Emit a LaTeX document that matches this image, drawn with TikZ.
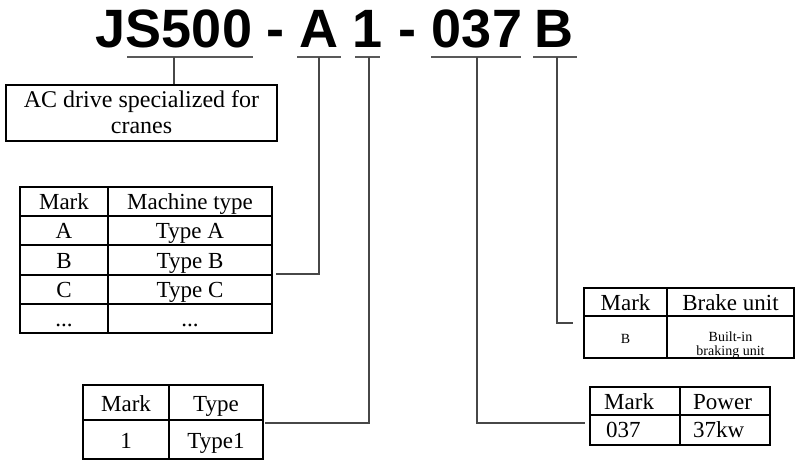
\documentclass[tikz,border=0pt]{standalone}
\usepackage{fontspec}
\setmainfont{Liberation Serif}
\newfontfamily\titlefont{Liberation Sans}
\begin{document}
\begin{tikzpicture}[x=1pt,y=-1pt,
  conn/.style={draw=black!72, line width=1.3pt},
  uline/.style={draw=black!65, line width=1.8pt},
  frame/.style={draw=black, line width=2pt, inner sep=0pt},
  grid/.style={draw=black, line width=1.8pt},
  ttl/.style={font=\titlefont\bfseries\fontsize{54}{54}\selectfont, anchor=base, inner sep=0pt},
  cell/.style={font=\fontsize{23}{23}\selectfont, anchor=base, inner sep=0pt},
  cellw/.style={font=\fontsize{23}{23}\selectfont, anchor=base west, inner sep=0pt},
  small/.style={font=\fontsize{14}{14}\selectfont, anchor=base, inner sep=0pt},
  boxtext/.style={font=\fontsize{24}{24}\selectfont, anchor=base, inner sep=0pt}]

\useasboundingbox (0,0) rectangle (798,461);

% title
\node[ttl] (tJS) at (174,47) {JS500};
\node[ttl] (d1) at (275.5,47) {-};
\node[ttl] (tA) at (319,47) {A};
\node[ttl] (t1) at (367.5,47) {1};
\node[ttl] (d2) at (407.5,47) {-};
\node[ttl] (t037) at (477,47) {037};
\node[ttl] (tB) at (554,47) {B};

% underlines
\draw[uline] (127,57) -- (253,57);
\draw[uline] (297,57) -- (341,57);
\draw[uline] (355,57) -- (380,57);
\draw[uline] (431,57) -- (521,57);
\draw[uline] (533,57) -- (577,57);
\coordinate (uJS) at (174,57);
\coordinate (uA) at (319,57);
\coordinate (u1) at (369,57);
\coordinate (u037) at (477,57);
\coordinate (uB) at (557,57);

% AC box
\node[frame, minimum width=271pt, minimum height=56pt] (acbox) at (141.5,113) {};
\node[boxtext] (ac1) at (141.5,107) {AC drive specialized for};
\node[boxtext] (ac2) at (141.5,133) {cranes};
\draw[conn] (uJS) -- (acbox.north -| uJS);

% machine type table
\node[frame, minimum width=252pt, minimum height=146pt] (tm) at (146,260) {};
\draw[grid] (108,187) -- (108,333);
\foreach \yy in {216,245,275,304} \draw[grid] (20,\yy) -- (272,\yy);
\node[cell] (m1) at (64,209.5) {Mark};
\node[cell] (m2) at (190,209.5) {Machine type};
\node[cell] (ma) at (64,238.5) {A};
\node[cell] (mta) at (190,238.5) {Type A};
\node[cell] (mb) at (64,268) {B};
\node[cell] (mtb) at (190,268) {Type B};
\node[cell] (mc) at (64,297.5) {C};
\node[cell] (mtc) at (190,297.5) {Type C};
\node[cell] (md) at (64,326.5) {...};
\node[cell] (mtd) at (190,326.5) {...};
\coordinate (eA) at (276,274);
\draw[conn] (uA) |- (eA);

% type table
\node[frame, minimum width=180pt, minimum height=74pt] (tt) at (173,422) {};
\draw[grid] (169,385) -- (169,459);
\draw[grid] (83,420) -- (263,420);
\node[cell] (k1) at (126,411) {Mark};
\node[cell] (k2) at (216,411) {Type};
\node[cell] (k3) at (126,448) {1};
\node[cell] (k4) at (216,448) {Type1};
\coordinate (e1) at (265,423);
\draw[conn] (u1) |- (e1);

% brake table
\node[frame, minimum width=210pt, minimum height=70pt] (tb) at (689,323) {};
\draw[grid] (667,288) -- (667,358);
\draw[grid] (584,316) -- (794,316);
\node[cell] (b1) at (625.5,310) {Mark};
\node[cell] (b2) at (730.5,310) {Brake unit};
\node[small] (b3) at (625.5,343) {B};
\node[small] (b4) at (730.5,341) {Built-in};
\node[small] (b5) at (730.5,355) {braking unit};
\coordinate (eB) at (573,323);
\draw[conn] (uB) |- (eB);

% power table
\node[frame, minimum width=180pt, minimum height=58pt] (tp) at (680,416) {};
\draw[grid] (680,387) -- (680,445);
\draw[grid] (590,415) -- (770,415);
\node[cellw] (p1) at (604,409) {Mark};
\node[cellw] (p2) at (693,409) {Power};
\node[cellw] (p3) at (606,437) {037};
\node[cellw] (p4) at (693,437) {37kw};
\coordinate (e037) at (585,423);
\draw[conn] (u037) |- (e037);
\end{tikzpicture}
\end{document}
